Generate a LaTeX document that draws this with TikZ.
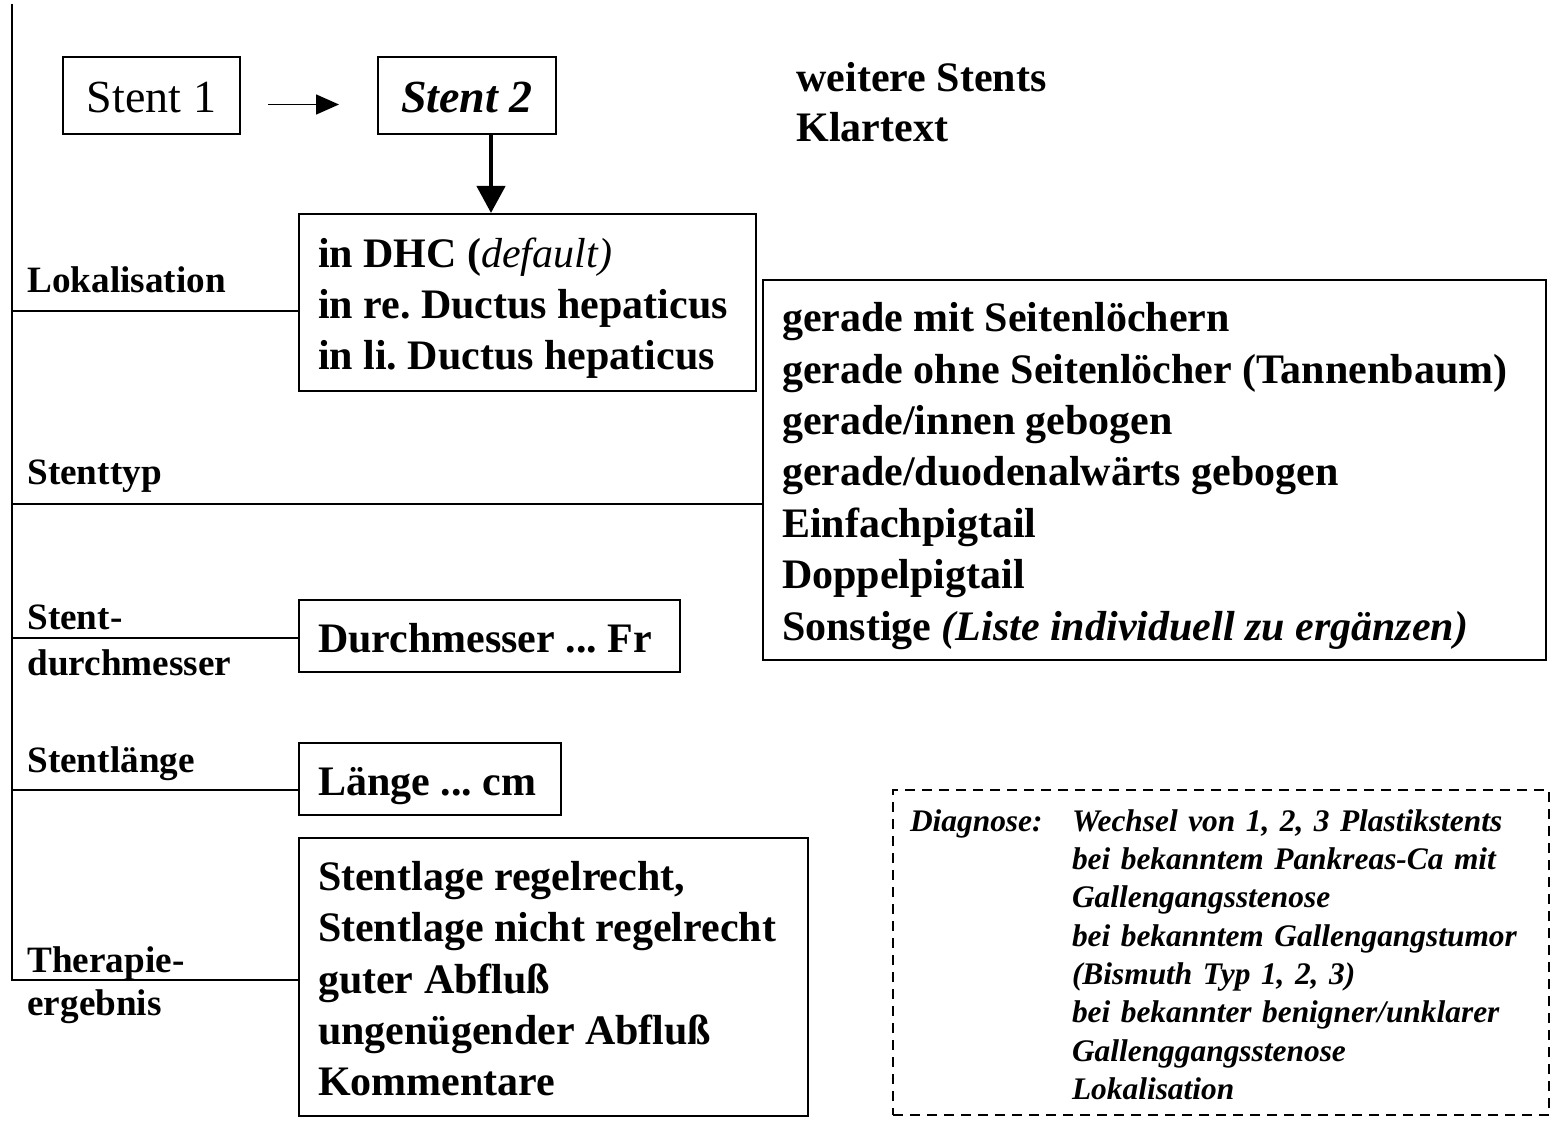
\documentclass[tikz,border=0pt]{standalone}
\usepackage{fontspec}
\setmainfont{Liberation Serif}
\usetikzlibrary{arrows.meta,calc}

\begin{document}
\begin{tikzpicture}[x=0.5pt,y=-0.5pt,
  optbox/.style={draw, line width=1pt, inner xsep=9.5pt, inner ysep=0pt, align=flush left,
    font=\fontsize{21}{25.7}\selectfont\bfseries\frenchspacing,
    execute at begin node={\rule{0pt}{21pt}}, execute at end node={\rule[-5pt]{0pt}{0pt}}},
  stentbox/.style={draw, line width=1pt, minimum height=38.5pt, text height=17.5pt, text depth=0pt,
    font=\fontsize{23}{27}\selectfont},
  lbl/.style={anchor=west, align=left, inner sep=0pt, font=\fontsize{18.6}{22.5}\selectfont\bfseries},
  branch/.style={line width=1pt}]
  \useasboundingbox (0,0) rectangle (1552,1122);

  \node[stentbox, minimum width=88.5pt] (s1) at (151.5,95.5) {Stent 1};
  \node[stentbox, minimum width=89pt, font=\fontsize{23}{27}\selectfont\bfseries\itshape]
        (s2) at (467,95.5) {Stent 2};
  \node[anchor=west, align=left, inner sep=0pt, font=\fontsize{21}{25}\selectfont\bfseries]
        (more) at (796,102) {weitere Stents\\Klartext};

  \node[optbox, text width=209.5pt, minimum height=88.5pt] (dhc) at (527.5,302.5)
        {in DHC (\textit{\mdseries default)}\\in re. Ductus hepaticus\\in li. Ductus hepaticus};
  \node[optbox, text width=372.5pt, minimum height=190pt] (typ) at (1154.5,470)
        {gerade mit Seitenlöchern\\gerade ohne Seitenlöcher (Tannenbaum)\\gerade/innen gebogen\\
         gerade/duodenalwärts gebogen\\Einfachpigtail\\Doppelpigtail\\
         Sonstige \textit{(Liste individuell zu ergänzen)}};
  \node[optbox, text width=171.5pt, minimum height=36pt] (dm) at (489.5,636) {Durchmesser ... Fr};
  \node[optbox, text width=112pt, minimum height=36pt] (len) at (430,779) {Länge ... cm};
  \node[optbox, text width=235.5pt, minimum height=139pt] (erg) at (553.5,977)
        {Stentlage regelrecht,\\Stentlage nicht regelrecht\\guter Abfluß\\
         ungenügender Abfluß\\Kommentare};

  \node[draw, line width=0.9pt, dash pattern=on 5pt off 3.5pt, inner xsep=8.5pt, inner ysep=0pt,
        text width=311pt, minimum height=162.5pt, align=left,
        font=\fontsize{15.7}{19.15}\selectfont\bfseries\itshape] (diag) at (1221,952.5)
        {\rule{0pt}{18.6pt}\begin{tabular}[t]{@{}p{81pt}@{}l@{}}
          Diagnose: & Wechsel von 1, 2, 3 Plastikstents\\
           & bei bekanntem Pankreas-Ca mit\\
           & Gallengangsstenose\\
           & bei bekanntem Gallengangstumor\\
           & (Bismuth Typ 1, 2, 3)\\
           & bei bekannter benigner/unklarer\\
           & Gallenggangsstenose\\
           & Lokalisation
         \end{tabular}};

  \node[lbl] (lLok) at (27,280) {Lokalisation};
  \node[lbl] (lTyp) at (27,476) {Stenttyp};
  \node[lbl, font=\fontsize{18.6}{23}\selectfont\bfseries] (lDm) at (27,640) {Stent-\\durchmesser};
  \node[lbl] (lLen) at (27,764) {Stentlänge};
  \node[lbl, font=\fontsize{18.6}{21.5}\selectfont\bfseries] (lErg) at (27,985) {Therapie-\\ergebnis};

  \coordinate (top) at (12,4);
  \coordinate (jLok) at (12,311);
  \coordinate (jTyp) at (12,504);
  \coordinate (jDm) at (12,638);
  \coordinate (jLen) at (12,790);
  \coordinate (jErg) at (12,980);

  \draw[branch] (top) -- (jErg) -- (jErg -| erg.west);
  \draw[branch] (jLok) -- (jLok -| dhc.west);
  \draw[branch] (jTyp) -- (jTyp -| typ.west);
  \draw[branch] (jDm) -- (jDm -| dm.west);
  \draw[branch] (jLen) -- (jLen -| len.west);

  \draw[-{Triangle[length=11.5pt,width=10pt]}, line width=0.8pt, shorten <=13.5pt, shorten >=19pt]
    ([yshift=-4.5pt]s1.east) -- ([yshift=-4.5pt]s2.west);
  \draw[-{Triangle[length=13.5pt,width=14pt]}, line width=2.2pt]
    ([xshift=12pt]s2.south) -- ([xshift=12pt]s2.south |- dhc.north);
\end{tikzpicture}
\end{document}
